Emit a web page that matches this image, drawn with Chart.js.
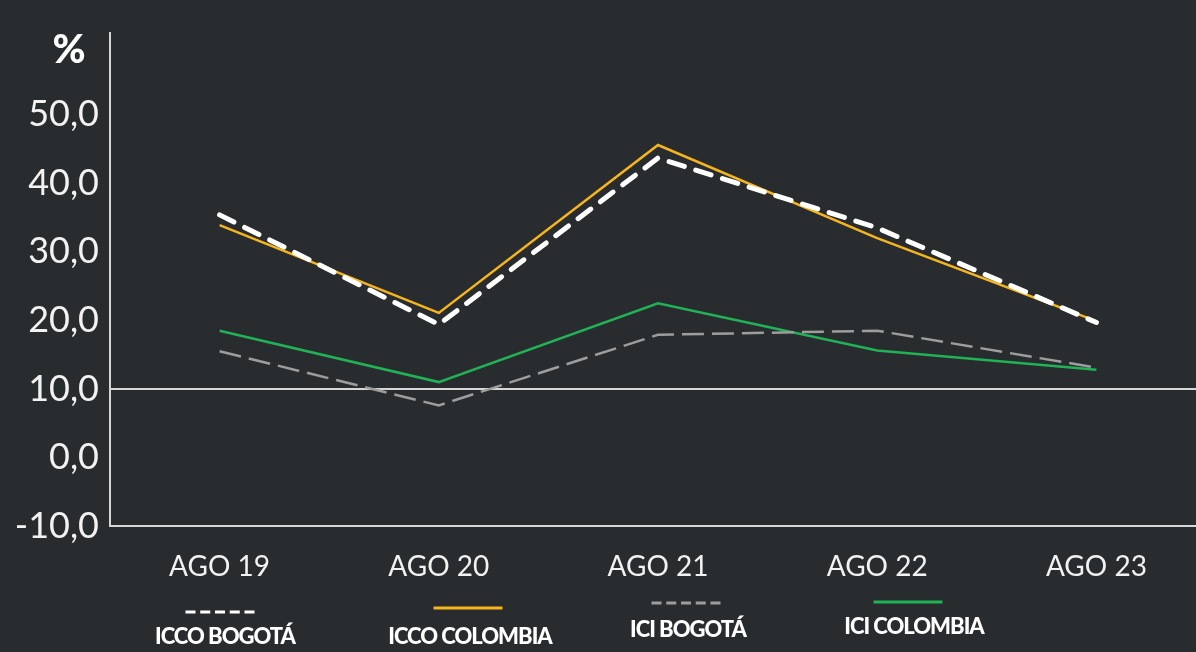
<!DOCTYPE html>
<html>
<head>
<meta charset="utf-8">
<script src="https://cdn.jsdelivr.net/npm/chart.js@4.4.1/dist/chart.umd.min.js"></script>
<style>
html, body { margin: 0; padding: 0; background: #292c2f; overflow: hidden; }
#wrap { width: 1196px; height: 652px; overflow: hidden; }
</style>
</head>
<body>
<div id="wrap"><canvas id="indexChart" width="1206" height="652"></canvas></div>
<script>
// values (%)
const periods = ["AGO 19", "AGO 20", "AGO 21", "AGO 22", "AGO 23"];
const iccoBogota   = [35.4, 19.4, 43.7, 33.5, 19.7];
const iccoColombia = [33.9, 21.1, 45.6, 32.0, 19.9];
const iciBogota    = [15.5, 7.6, 17.9, 18.5, 13.1];
const iciColombia  = [18.5, 11.0, 22.5, 15.6, 12.8];
const yTicks = [-10, 0, 10, 20, 30, 40, 50];
const refLine = 10;

const axisColor = "#d6d6d6";
const textColor = "#f2f2f2";

// where each legend entry sits under the chart
const legendSlots = [
    { textX: 225, textY: 644, lineX: 220, lineY: 612 },
    { textX: 470, textY: 644, lineX: 468, lineY: 608 },
    { textX: 688, textY: 637, lineX: 686, lineY: 603 },
    { textX: 914, textY: 634, lineX: 908, lineY: 602 }
];

const bottomLegend = {
    id: "bottomLegend",
    afterDraw(chart) {
        const ctx = chart.ctx;
        chart.data.datasets.forEach((ds, i) => {
            const s = legendSlots[i];
            ctx.save();
            ctx.strokeStyle = ds.borderColor;
            ctx.lineWidth = 3;
            ctx.setLineDash(ds.borderDash && ds.borderDash.length ? [10, 4.75] : []);
            ctx.beginPath();
            ctx.moveTo(s.lineX - 34.5, s.lineY);
            ctx.lineTo(s.lineX + 34.5, s.lineY);
            ctx.stroke();
            ctx.setLineDash([]);
            ctx.font = "900 22px Lato";
            ctx.letterSpacing = "-1px";
            ctx.fillStyle = "#ffffff";
            ctx.textAlign = "center";
            ctx.textBaseline = "alphabetic";
            ctx.fillText(ds.label, s.textX, s.textY);
            ctx.restore();
        });

        // unit label on top of the y axis
        ctx.save();
        ctx.font = "900 40px Lato";
        ctx.fillStyle = "#ffffff";
        ctx.textAlign = "center";
        ctx.textBaseline = "alphabetic";
        ctx.fillText("%", 69, 63);
        ctx.restore();
    }
};

Chart.defaults.font.family = "Lato";

new Chart(document.getElementById("indexChart"), {
    type: "line",
    data: {
        labels: periods,
        datasets: [
            {
                label: "ICCO BOGOTÁ",
                data: iccoBogota,
                borderColor: "#ffffff",
                borderWidth: 5,
                borderDash: [16, 12],
                borderCapStyle: "round",
                borderJoinStyle: "round"
            },
            {
                label: "ICCO COLOMBIA",
                data: iccoColombia,
                borderColor: "#f6b51d",
                borderWidth: 2.5
            },
            {
                label: "ICI BOGOTÁ",
                data: iciBogota,
                borderColor: "#9d9d9d",
                borderWidth: 2.5,
                borderDash: [22, 8]
            },
            {
                label: "ICI COLOMBIA",
                data: iciColombia,
                borderColor: "#21b256",
                borderWidth: 2.5
            }
        ]
    },
    options: {
        responsive: false,
        animation: false,
        layout: { padding: { top: 28, right: 0, bottom: 0, left: 0 } },
        elements: { point: { radius: 0 }, line: { tension: 0 } },
        plugins: { legend: { display: false }, tooltip: { enabled: false } },
        scales: {
            x: {
                offset: true,
                afterFit: s => { s.height = 126; },
                border: { display: true, color: axisColor, width: 2 },
                grid: { display: true, drawTicks: false, color: "rgba(0,0,0,0)" },
                ticks: {
                    padding: 24,
                    color: textColor,
                    font: { size: 28 },
                    maxRotation: 0,
                    autoSkip: false
                }
            },
            y: {
                min: -10,
                max: 62,
                afterBuildTicks: s => { s.ticks = yTicks.map(v => ({ value: v })); },
                afterFit: s => { s.width = 110; },
                border: { display: true, color: axisColor, width: 2 },
                grid: {
                    drawTicks: false,
                    lineWidth: 2,
                    color: c => (c.tick && c.tick.value === refLine ? axisColor : "rgba(0,0,0,0)")
                },
                ticks: {
                    padding: 11,
                    color: textColor,
                    font: { size: 36 },
                    callback: v => v.toFixed(1).replace(".", ",")
                }
            }
        }
    },
    plugins: [bottomLegend]
});
</script>
</body>
</html>
